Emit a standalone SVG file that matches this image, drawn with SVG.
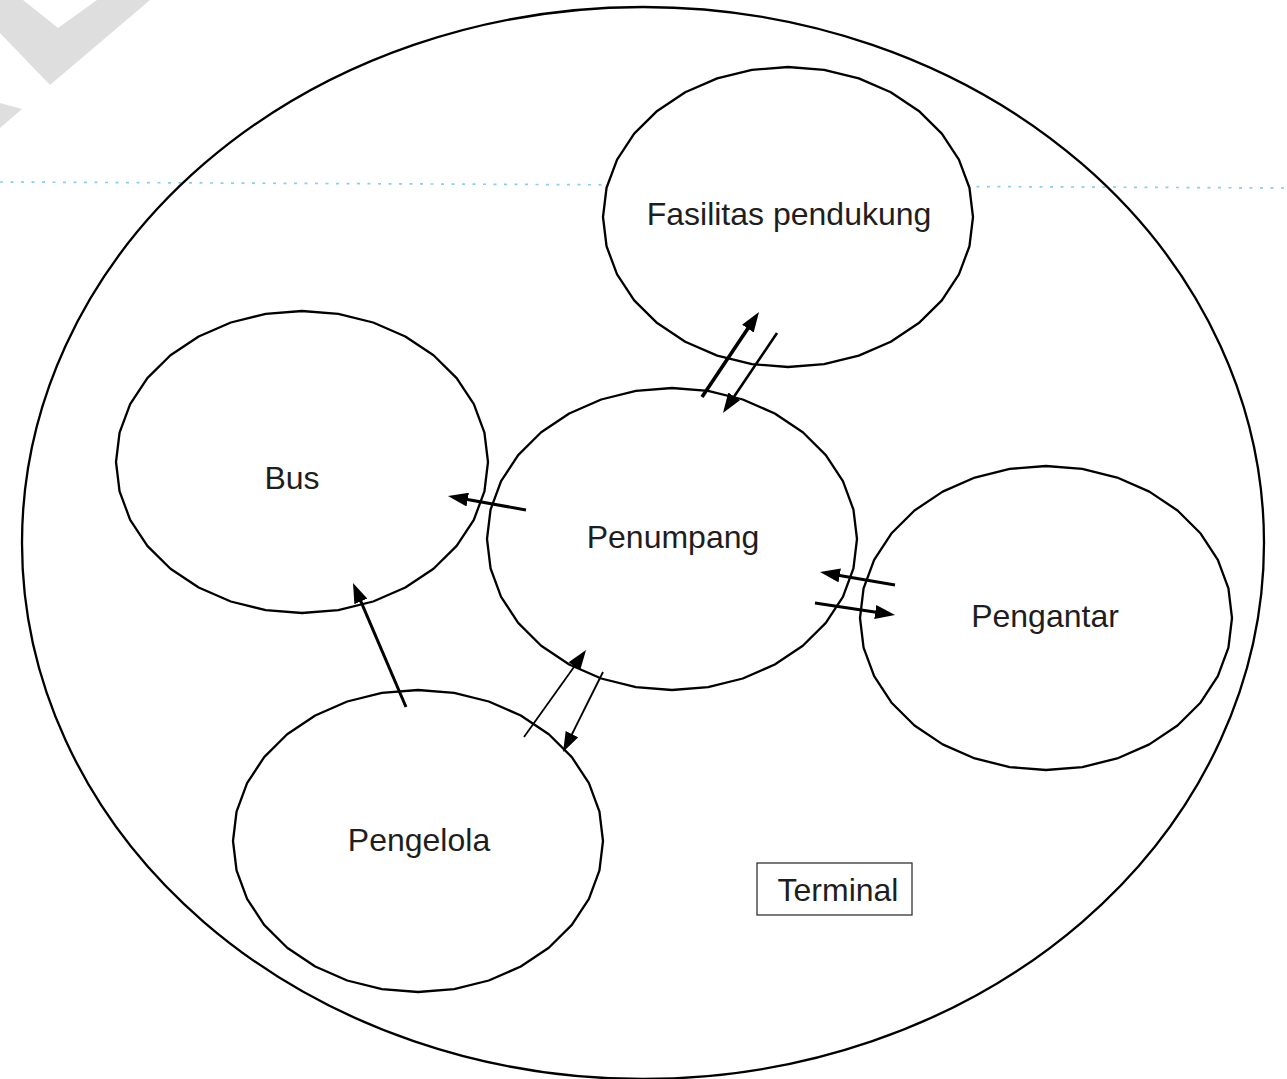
<svg xmlns="http://www.w3.org/2000/svg" xmlns:xlink="http://www.w3.org/1999/xlink" width="1287" height="1079" viewBox="0 0 1287 1079">
  <style>
    .ring { fill: none; stroke: #000; stroke-width: 2.3; stroke-linejoin: round; }
    .ring.solid { fill: #fff; }
    .label { font-family: "Liberation Sans", Arial, sans-serif; font-size: 32px; fill: #1e1e1e; text-anchor: middle; }
    .link { fill: none; stroke: #000; stroke-linecap: butt; marker-end: url(#head); }
    .mark { fill: #dedede; }
    .guide { stroke: #86d0ee; stroke-width: 1.7; stroke-dasharray: 3 7.5; fill: none; }
  </style>
  <defs>
    <!-- unit circle as a 32-sided polygon; scaled per node, stroke kept at screen width -->
    <polygon id="oval" vector-effect="non-scaling-stroke" points="1,0 .98079,.19509 .92388,.38268 .83147,.55557 .70711,.70711 .55557,.83147 .38268,.92388 .19509,.98079 0,1 -.19509,.98079 -.38268,.92388 -.55557,.83147 -.70711,.70711 -.83147,.55557 -.92388,.38268 -.98079,.19509 -1,0 -.98079,-.19509 -.92388,-.38268 -.83147,-.55557 -.70711,-.70711 -.55557,-.83147 -.38268,-.92388 -.19509,-.98079 0,-1 .19509,-.98079 .38268,-.92388 .55557,-.83147 .70711,-.70711 .83147,-.55557 .92388,-.38268 .98079,-.19509"/>
    <marker id="head" viewBox="0 0 20 14" refX="6" refY="7" markerWidth="20" markerHeight="14" markerUnits="userSpaceOnUse" orient="auto">
      <path d="M0,0 L20,7 L0,14 Z" fill="#000"/>
    </marker>
  </defs>

  <rect width="1287" height="1079" fill="#fff"/>

  <!-- grey corner mark -->
  <polygon class="mark" points="0,0 23,0 58,28 97,0 150,0 50,85 0,33"/>
  <polygon class="mark" points="0,103 22,109 0,128"/>

  <!-- dotted guide line -->
  <line class="guide" x1="0" y1="182" x2="1287" y2="188"/>

  <!-- terminal boundary -->
  <g id="terminal">
    <ellipse class="ring" cx="643" cy="543" rx="621" ry="536"/>
    <rect x="757" y="863" width="155" height="52" fill="none" stroke="#333" stroke-width="1.3"/>
    <text class="label" x="838" y="901">Terminal</text>
  </g>

  <g id="fasilitas">
    <use xlink:href="#oval" class="ring solid" transform="translate(788,217) scale(185,150)"/>
    <text class="label" x="789" y="225">Fasilitas pendukung</text>
  </g>

  <g id="bus">
    <use xlink:href="#oval" class="ring" transform="translate(302,462) scale(186,151)"/>
    <text class="label" x="292" y="489">Bus</text>
  </g>

  <g id="penumpang">
    <use xlink:href="#oval" class="ring" transform="translate(672,539) scale(185,151)"/>
    <text class="label" x="673" y="548">Penumpang</text>
  </g>

  <g id="pengantar">
    <use xlink:href="#oval" class="ring" transform="translate(1046,618) scale(186,152)"/>
    <text class="label" x="1045" y="627">Pengantar</text>
  </g>

  <g id="pengelola">
    <use xlink:href="#oval" class="ring" transform="translate(418,841) scale(185,151)"/>
    <text class="label" x="419" y="851">Pengelola</text>
  </g>

  <!-- connectors -->
  <g id="connectors">
    <line class="link" x1="702" y1="397" x2="751.2" y2="323.6" stroke-width="3.6"/>
    <line class="link" x1="777" y1="333" x2="730.8" y2="401.4" stroke-width="2.6"/>
    <line class="link" x1="526" y1="510" x2="461.8" y2="498.5" stroke-width="3"/>
    <line class="link" x1="895" y1="585" x2="833.8" y2="574.4" stroke-width="3"/>
    <line class="link" x1="815" y1="603" x2="881.2" y2="612.9" stroke-width="3"/>
    <line class="link" x1="406" y1="707" x2="358.5" y2="595.9" stroke-width="3"/>
    <line class="link" x1="524" y1="737" x2="577.9" y2="661.4" stroke-width="1.8"/>
    <line class="link" x1="603" y1="672" x2="569.3" y2="739.5" stroke-width="1.8"/>
  </g>
</svg>
